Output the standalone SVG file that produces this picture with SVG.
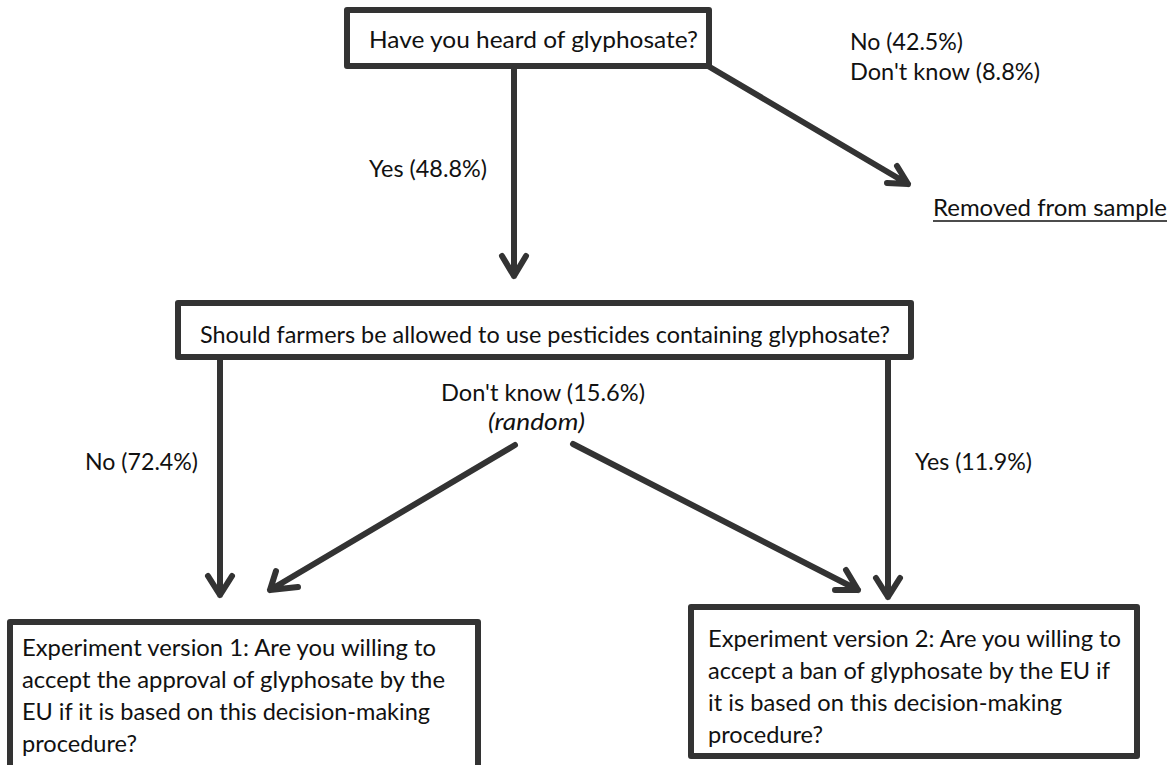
<svg xmlns="http://www.w3.org/2000/svg" width="1175" height="765" viewBox="0 0 1175 765">
<style>
.box{fill:#fff;stroke:#333;stroke-width:6;stroke-linejoin:round}
.t{font-family:Lato,"Open Sans","Liberation Sans",sans-serif;font-size:24px;fill:#111}
.c{fill:none;stroke:#333;stroke-width:6;stroke-linecap:round;stroke-linejoin:round}
</style>
<rect width="1175" height="765" fill="#fff"/>
<g id="connectors">
<path class="c" d="M514 68 V276 M502 256 L514 276 L526 256"/>
<path class="c" d="M708 66 L908 184 M887 183 L908 184 L897 166"/>
<path class="c" d="M220 360 V595 M208 576 L220 595 L232 576"/>
<path class="c" d="M515 445 L270 590 M298 587 L270 590 L276 571"/>
<path class="c" d="M573 444 L858 590 M835 590 L858 590 L846 570"/>
<path class="c" d="M888 360 V597 M876 578 L888 597 L900 578"/>
</g>
<g id="n1"><rect class="box" x="347" y="10" width="362" height="56"/><text class="t" x="369" y="48" textLength="329" lengthAdjust="spacingAndGlyphs">Have you heard of glyphosate?</text></g>
<g id="l-no1"><text class="t" x="850" y="50" textLength="113" lengthAdjust="spacingAndGlyphs">No (42.5%)</text><text class="t" x="850" y="80" textLength="190" lengthAdjust="spacingAndGlyphs">Don't know (8.8%)</text></g>
<g id="removed"><text class="t" x="933" y="216" textLength="234" lengthAdjust="spacingAndGlyphs">Removed from sample</text><line x1="933" y1="221" x2="1167" y2="221" stroke="#111" stroke-width="1.5"/></g>
<g id="l-yes1"><text class="t" x="369" y="177" textLength="118" lengthAdjust="spacingAndGlyphs">Yes (48.8%)</text></g>
<g id="n2"><rect class="box" x="178" y="303" width="733" height="54"/><text class="t" x="200" y="343" textLength="690" lengthAdjust="spacingAndGlyphs">Should farmers be allowed to use pesticides containing glyphosate?</text></g>
<g id="l-dk"><text class="t" x="441" y="401" textLength="204" lengthAdjust="spacingAndGlyphs">Don't know (15.6%)</text><text class="t" x="488" y="430" font-style="italic" textLength="97" lengthAdjust="spacingAndGlyphs">(random)</text></g>
<g id="l-no2"><text class="t" x="85" y="470" textLength="113" lengthAdjust="spacingAndGlyphs">No (72.4%)</text></g>
<g id="l-yes2"><text class="t" x="915" y="470" textLength="117" lengthAdjust="spacingAndGlyphs">Yes (11.9%)</text></g>
<g id="n3"><rect class="box" x="10" y="622" width="468" height="160"/>
<text class="t" x="22" y="656" textLength="414" lengthAdjust="spacingAndGlyphs">Experiment version 1: Are you willing to</text>
<text class="t" x="22" y="688" textLength="423" lengthAdjust="spacingAndGlyphs">accept the approval of glyphosate by the</text>
<text class="t" x="22" y="720" textLength="408" lengthAdjust="spacingAndGlyphs">EU if it is based on this decision-making</text>
<text class="t" x="22" y="752" textLength="115" lengthAdjust="spacingAndGlyphs">procedure?</text></g>
<g id="n4"><rect class="box" x="691" y="607" width="446" height="149"/>
<text class="t" x="708" y="647" textLength="413" lengthAdjust="spacingAndGlyphs">Experiment version 2: Are you willing to</text>
<text class="t" x="708" y="679" textLength="402" lengthAdjust="spacingAndGlyphs">accept a ban of glyphosate by the EU if</text>
<text class="t" x="708" y="711" textLength="354" lengthAdjust="spacingAndGlyphs">it is based on this decision-making</text>
<text class="t" x="708" y="743" textLength="115" lengthAdjust="spacingAndGlyphs">procedure?</text></g>
</svg>
